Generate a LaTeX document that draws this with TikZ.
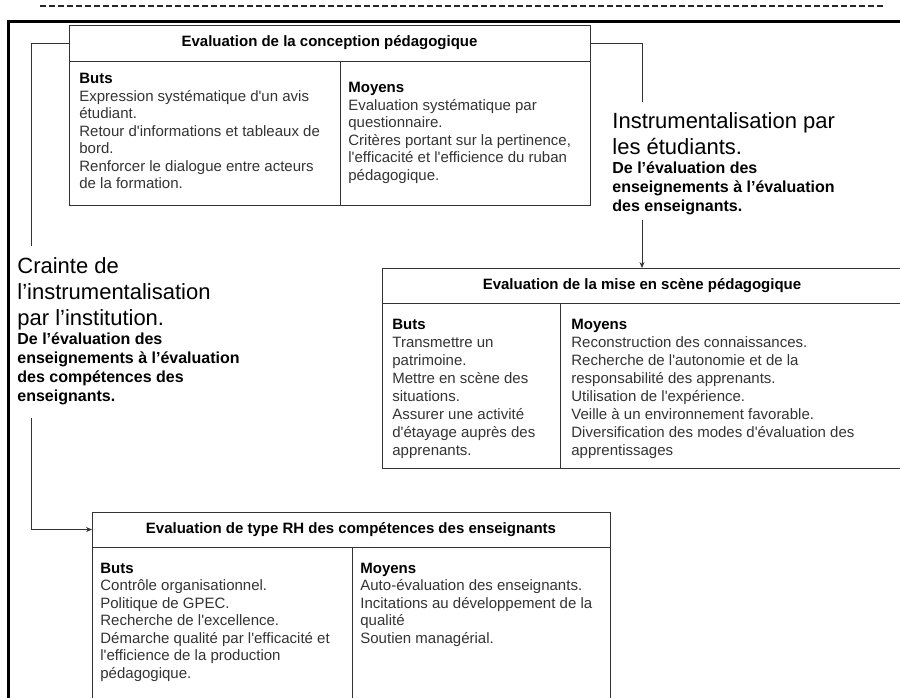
\documentclass[tikz,border=0pt]{standalone}
\usepackage{fontspec}
\newfontfamily\arial{Liberation Sans}
\usetikzlibrary{positioning, arrows.meta}

\begin{document}
\begin{tikzpicture}[x=1pt, y=-1pt, thick, >={Stealth[length=6pt, width=5pt]},
    head/.style = {draw=black!80, line width=1pt, rectangle, inner sep=0pt, outer sep=0pt, anchor=north west, minimum height=35pt, font=\arial\bfseries\fontsize{15}{18}\selectfont},
    col/.style = {draw=black!80, line width=1pt, rectangle, inner sep=0pt, outer sep=0pt, anchor=north west},
    txt/.style = {inner sep=0pt, align=left, text=black!80, font=\arial\fontsize{15}{17.5}\selectfont},
    big/.style = {inner sep=0pt, align=left, anchor=north west, font=\arial\fontsize{22}{26}\selectfont},
    small/.style = {inner sep=0pt, align=left, font=\arial\bfseries\fontsize{16}{19}\selectfont}]
            \useasboundingbox (0,0) rectangle (900,697);
            \draw[line width=2pt, dash pattern=on 6pt off 3pt, black!85] (40,6) -- (885,6);
            \draw[line width=3pt] (8.5,21.5) rectangle (960,760);

            \node[head, minimum width=521pt, minimum height=36pt] (1h) at (69,25) {Evaluation de la conception pédagogique};
            \node[col, minimum width=271pt, minimum height=144pt] (1b) at (69,61) {};
            \node[col, minimum width=250pt, minimum height=144pt] (1m) at (340,61) {};
            \node[txt, below right=12pt and 10pt of 1b.north west] (1bt) {{\color{black}\bfseries Buts}\\Expression systématique d'un avis\\étudiant.\\Retour d'informations et tableaux de\\bord.\\Renforcer le dialogue entre acteurs\\de la formation.};
            \node[txt, below right=21pt and 8pt of 1m.north west] (1mt) {{\color{black}\bfseries Moyens}\\Evaluation systématique par\\questionnaire.\\Critères portant sur la pertinence,\\l'efficacité et l'efficience du ruban\\pédagogique.};

            \node[head, minimum width=520pt] (2h) at (382,268) {Evaluation de la mise en scène pédagogique};
            \node[col, minimum width=178pt, minimum height=165pt] (2b) at (382,303) {};
            \node[col, minimum width=342pt, minimum height=165pt] (2m) at (560,303) {};
            \node[txt, font=\arial\fontsize{15}{18}\selectfont, below right=15.5pt and 10pt of 2b.north west] (2bt) {{\color{black}\bfseries Buts}\\Transmettre un\\patrimoine.\\Mettre en scène des\\situations.\\Assurer une activité\\d'étayage auprès des\\apprenants.};
            \node[txt, font=\arial\fontsize{15}{18}\selectfont, below right=15.5pt and 11pt of 2m.north west] (2mt) {{\color{black}\bfseries Moyens}\\Reconstruction des connaissances.\\Recherche de l'autonomie et de la\\responsabilité des apprenants.\\Utilisation de l'expérience.\\Veille à un environnement favorable.\\Diversification des modes d'évaluation des\\apprentissages};

            \node[head, minimum width=518pt] (3h) at (92,512) {Evaluation de type RH des compétences des enseignants};
            \node[col, minimum width=260pt, minimum height=200pt] (3b) at (92,547) {};
            \node[col, minimum width=258pt, minimum height=200pt] (3m) at (352,547) {};
            \node[txt, below right=15.5pt and 8pt of 3b.north west] (3bt) {{\color{black}\bfseries Buts}\\Contrôle organisationnel.\\Politique de GPEC.\\Recherche de l'excellence.\\Démarche qualité par l'efficacité et\\l'efficience de la production\\pédagogique.};
            \node[txt, below right=15.5pt and 8pt of 3m.north west] (3mt) {{\color{black}\bfseries Moyens}\\Auto-évaluation des enseignants.\\Incitations au développement de la\\qualité\\Soutien managérial.};

            \node[big] (rt) at (612,112) {Instrumentalisation par\\les étudiants.};
            \node[small, below=6pt of rt.south west, anchor=north west] (rs) {De l’évaluation des\\enseignements à l’évaluation\\des enseignants.};
            \node[big] (lt) at (17,257) {Crainte de\\l’instrumentalisation\\par l’institution.};
            \node[small, below=2pt of lt.south west, anchor=north west] (ls) {De l’évaluation des\\enseignements à l’évaluation\\des compétences des\\enseignants.};

            \coordinate (rtop) at (642,102);
            \coordinate (rbot) at (642,220);
            \coordinate (ltop) at (31,246);
            \coordinate (lbot) at (31,418);

            \draw[black!80] (1h.east) -| (rtop);
            \draw[black!80, ->] (rbot) -- (rbot |- 2h.north);
            \draw[black!80] (1h.west) -| (ltop);
            \draw[black!80, ->] (lbot) |- (3h.west);
        \end{tikzpicture}
\end{document}
